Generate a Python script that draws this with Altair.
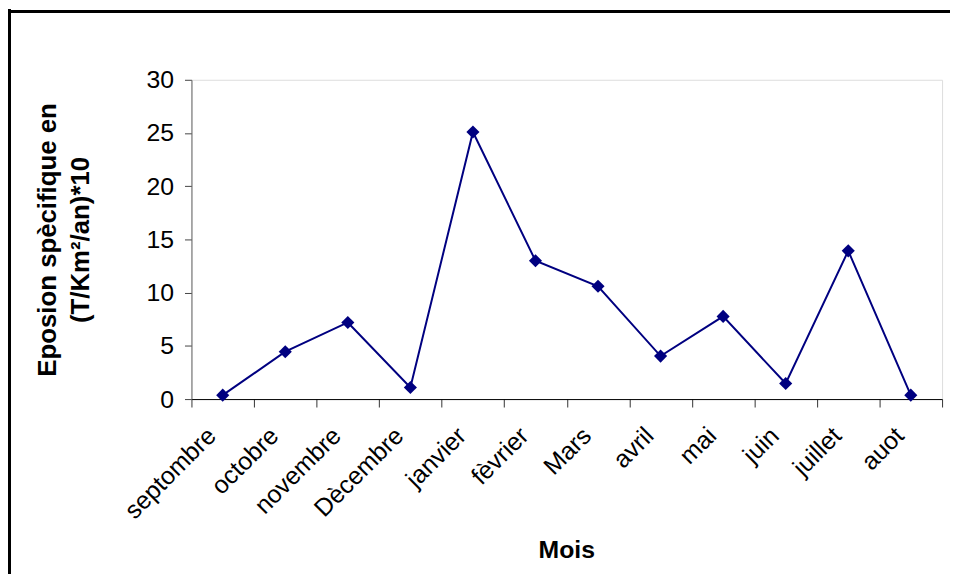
import altair as alt
import pandas as pd

months = ["septombre", "octobre", "novembre", "Dècembre", "janvier", "fèvrier",
          "Mars", "avril", "mai", "juin", "juillet", "auot"]
values = [0.37, 4.45, 7.2, 1.09, 25.1, 13.0, 10.6, 4.04, 7.77, 1.46, 13.93, 0.37]
y_ticks = [0, 5, 10, 15, 20, 25, 30]

df = pd.DataFrame({"Mois": months, "val": values})

FONT = "Liberation Sans"
NAVY = "#000080"
FS = 25

x_enc = alt.X("Mois:N", sort=months,
              scale=alt.Scale(type="band", paddingInner=0, paddingOuter=0),
              axis=alt.Axis(title="Mois", tickBand="extent", labelAngle=-45,
                            labelAlign="right", labelBaseline="top",
                            labelPadding=16, labelOffset=-20, tickSize=8, labelFontSize=FS,
                            labelFont=FONT, labelColor="black",
                            titleFont=FONT, titleFontSize=FS, titleFontWeight="bold",
                            titleColor="black", titleX=378, titleY=152,
                            titleAlign="center", titleBaseline="middle",
                            domainColor="black", tickColor="#333333", grid=False))
y_enc = alt.Y("val:Q", scale=alt.Scale(domain=[0, 30], nice=False),
              axis=alt.Axis(title=["Eposion spècifique en", "(T/Km²/an)*10"],
                            values=y_ticks, tickSize=7, labelPadding=11,
                            labelFontSize=FS, labelFont=FONT, labelColor="black",
                            titleFont=FONT, titleFontSize=26, titleFontWeight="bold",
                            titleColor="black", titleAngle=-90, titleX=-145, titleY=161,
                            titleAlign="center", titleBaseline="middle",
                            titleLineHeight=33,
                            domainColor="#666666", tickColor="#444444", grid=False))

line = alt.Chart(df).mark_line(color=NAVY, strokeWidth=2).encode(x=x_enc, y=y_enc)
pts = alt.Chart(df).mark_point(shape="diamond", filled=True, color=NAVY,
                               size=175, opacity=1).encode(x=x_enc, y=y_enc)

frame_top = alt.Chart(df).mark_rule(color="black", strokeWidth=3).encode(
    x=alt.value(-186), x2=alt.value(800), y=alt.value(-69))
frame_left = alt.Chart(df).mark_rule(color="black", strokeWidth=3).encode(
    x=alt.value(-184), y=alt.value(-71), y2=alt.value(520))

chart = alt.layer(line, pts, frame_top, frame_left).properties(
    width=757, height=322,
    autosize=alt.AutoSizeParams(type="none"),
    padding={"left": 185, "top": 70, "right": 8, "bottom": 174},
).configure_view(stroke=None).configure(background="white")

chart.save("out.html", embed_options={"renderer": "svg", "actions": False})
